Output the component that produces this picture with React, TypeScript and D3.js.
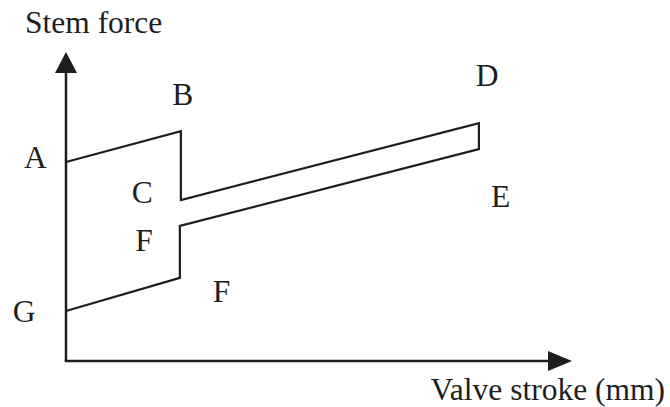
import React from "react";
import * as d3 from "d3";

// Force-stroke curve (abstract units)
const strokeValues = [0, 2.27, 2.27, 8.16, 8.16, 2.25, 2.25, 0];
const forceValues = [6.44, 7.44, 5.21, 7.70, 6.86, 4.37, 2.69, 1.62];

// Point labels and their anchor (abstract units)
const pointLabels = ["A", "B", "C", "F", "F", "G", "D", "E"];
const labelStroke = [-0.83, 2.1, 1.3, 1.37, 2.9, -1.05, 8.1, 8.4];
const labelForce = [6.25, 8.3, 5.1, 3.55, 1.9, 1.25, 8.9, 5.0];

const yAxisTitle = "Stem force";
const xAxisTitle = "Valve stroke (mm)";

const W = 670;
const H = 407;

export default function App() {
  const x = d3.scaleLinear().domain([0, 10]).range([66, 572]);
  const y = d3.scaleLinear().domain([0, 10]).range([361, 52]);

  const pts: [number, number][] = strokeValues.map((s, i) => [s, forceValues[i]]);
  const line = d3
    .line<[number, number]>()
    .x((d) => x(d[0]))
    .y((d) => y(d[1]));

  const ink = "#1e1e1e";
  const font = "'Liberation Serif', 'Times New Roman', serif";
  const fs = 31.5;
  const x0 = x(0);
  const y0 = y(0);
  const xEnd = x(10);
  const yEnd = y(10);

  return (
    <svg
      width={W}
      height={H}
      style={{ position: "absolute", left: 0, top: 0, background: "#fff" }}
    >
      {/* axes */}
      <line x1={x0} y1={y0} x2={x0} y2={yEnd + 18} stroke={ink} strokeWidth={2.5} />
      <path d={`M${x0},${yEnd} L${x0 - 11},${yEnd + 21} L${x0 + 11},${yEnd + 21} Z`} fill={ink} />
      <line x1={x0 - 1.25} y1={y0} x2={xEnd - 20} y2={y0} stroke={ink} strokeWidth={2.5} />
      <path d={`M${xEnd},${y0} L${xEnd - 24},${y0 - 10} L${xEnd - 24},${y0 + 10} Z`} fill={ink} />

      {/* curve */}
      <path d={line(pts) || ""} fill="none" stroke={ink} strokeWidth={2.2} strokeLinejoin="miter" />

      {/* point labels */}
      {pointLabels.map((t, i) => (
        <text
          key={i}
          x={x(labelStroke[i])}
          y={y(labelForce[i])}
          fontFamily={font}
          fontSize={fs}
          fill={ink}
        >
          {t}
        </text>
      ))}

      {/* axis titles */}
      <text x={25} y={33} fontFamily={font} fontSize={fs} fill={ink}>
        {yAxisTitle}
      </text>
      <text x={665} y={400} fontFamily={font} fontSize={fs} fill={ink} textAnchor="end">
        {xAxisTitle}
      </text>
    </svg>
  );
}
